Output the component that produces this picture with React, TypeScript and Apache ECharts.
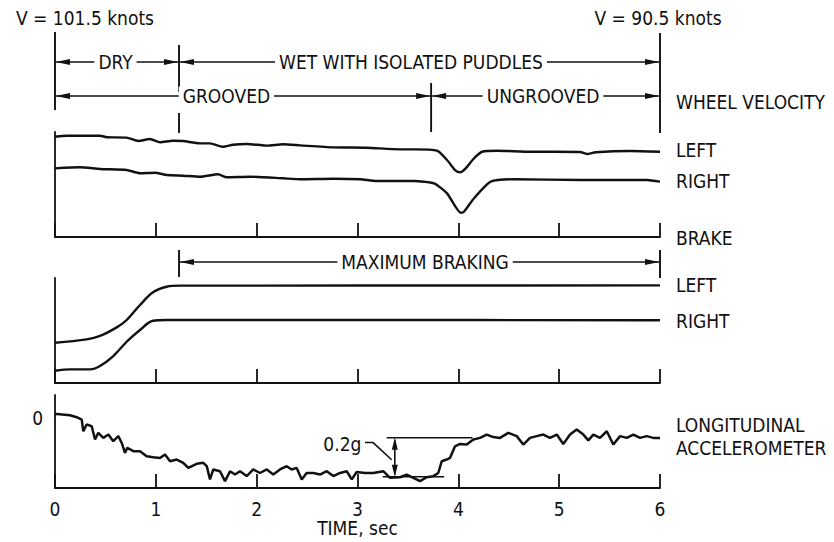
import React, { useEffect, useRef } from "react";
import * as echarts from "echarts";

const FONT = '"Liberation Sans Narrow", "DejaVu Sans Condensed", "Liberation Sans", sans-serif';
const INK = "#111111";

const TIME_TICKS = [0, 1, 2, 3, 4, 5, 6];

// Wheel velocity (relative units), [time s, value]
const wheelLeft: [number, number][] = [
  [0, 95.5], [0.116, 96.5], [0.446, 96.5], [0.513, 95.0], [0.711, 94.6], [0.826, 91.4], [0.942, 93.3],
  [1.041, 90.2], [1.17, 91.7], [1.269, 91.4], [1.438, 89.2], [1.537, 89.2], [1.666, 86.0], [1.765, 87.9],
  [1.904, 88.6], [2.103, 87.0], [2.261, 88.3], [2.43, 87.3], [2.757, 85.4], [3.094, 85.0], [3.421, 83.5],
  [3.56, 83.5], [3.789, 82.2], [3.888, 73.3], [3.974, 63.1], [4.017, 61.6], [4.073, 65.4], [4.156, 75.0],
  [4.235, 81.2], [4.384, 82.2], [4.718, 81.2], [4.949, 81.2], [5.207, 81.0], [5.276, 79.0], [5.362, 80.7],
  [5.71, 81.9], [6.0, 81.2],
];
const wheelRight: [number, number][] = [
  [0, 65.4], [0.248, 66.4], [0.446, 64.8], [0.711, 63.8], [0.843, 60.7], [0.992, 61.2], [1.108, 59.0],
  [1.269, 58.4], [1.438, 57.4], [1.617, 59.7], [1.703, 56.9], [1.934, 57.4], [2.261, 55.9], [2.43, 55.0],
  [2.757, 55.5], [3.025, 55.0], [3.19, 53.3], [3.56, 53.3], [3.759, 51.1], [3.888, 41.6], [4.024, 23.1],
  [4.056, 24.1], [4.156, 36.9], [4.321, 52.7], [4.552, 55.0], [5.214, 54.3], [5.871, 54.3], [6.0, 52.7],
];

// Brake (relative units)
const brakeLeft: [number, number][] = [
  [0, 38.4], [0.314, 41.6], [0.446, 44.8], [0.612, 53.0], [0.711, 60.0], [0.843, 74.3], [0.972, 86.4],
  [1.108, 91.7], [1.24, 92.7], [3.0, 92.8], [6.0, 93.0],
];
const brakeRight: [number, number][] = [
  [0, 11.7], [0.149, 13.0], [0.347, 13.0], [0.446, 16.2], [0.578, 25.7], [0.711, 39.3], [0.843, 50.5],
  [0.972, 59.3], [1.108, 60.0], [3.0, 60.0], [6.0, 59.7],
];

// Longitudinal acceleration, g
const accel: [number, number][] = [
  [0, 0.021], [0.017, 0.022], [0.149, 0.015], [0.215, 0.005], [0.265, -0.007], [0.281, -0.067], [0.314, -0.032],
  [0.364, -0.041], [0.397, -0.109], [0.429, -0.075], [0.479, -0.101], [0.529, -0.084], [0.578, -0.118],
  [0.628, -0.092], [0.662, -0.127], [0.694, -0.178], [0.717, -0.152], [0.777, -0.169], [0.843, -0.169],
  [0.909, -0.195], [0.975, -0.2], [1.041, -0.204], [1.091, -0.186], [1.141, -0.221], [1.207, -0.212],
  [1.272, -0.229], [1.322, -0.255], [1.405, -0.234], [1.471, -0.229], [1.505, -0.246], [1.537, -0.314],
  [1.57, -0.263], [1.636, -0.272], [1.686, -0.323], [1.736, -0.272], [1.785, -0.289], [1.835, -0.272],
  [1.901, -0.297], [1.967, -0.263], [2.033, -0.281], [2.1, -0.263], [2.165, -0.289], [2.231, -0.263],
  [2.298, -0.246], [2.347, -0.263], [2.397, -0.255], [2.447, -0.314], [2.496, -0.281], [2.562, -0.281],
  [2.628, -0.289], [2.695, -0.272], [2.76, -0.297], [2.827, -0.281], [2.893, -0.272], [2.943, -0.314],
  [2.992, -0.276], [3.074, -0.281], [3.157, -0.281], [3.256, -0.272], [3.322, -0.306], [3.422, -0.303],
  [3.488, -0.289], [3.554, -0.306], [3.62, -0.323], [3.686, -0.303], [3.752, -0.297], [3.801, -0.281],
  [3.835, -0.221], [3.885, -0.212], [3.917, -0.204], [3.967, -0.144], [4.017, -0.132], [4.083, -0.135],
  [4.149, -0.109], [4.215, -0.101], [4.281, -0.084], [4.347, -0.097], [4.413, -0.101], [4.496, -0.075],
  [4.579, -0.092], [4.644, -0.135], [4.711, -0.101], [4.777, -0.092], [4.843, -0.084], [4.909, -0.101],
  [4.976, -0.084], [5.041, -0.132], [5.108, -0.084], [5.174, -0.058], [5.24, -0.084], [5.289, -0.114],
  [5.339, -0.084], [5.405, -0.101], [5.472, -0.067], [5.537, -0.135], [5.604, -0.092], [5.67, -0.101],
  [5.736, -0.084], [5.802, -0.101], [5.868, -0.092], [5.934, -0.101], [6.0, -0.101],
];

// Zones and annotations (time, s)
const DRY_END = 1.23;
const GROOVED_END = 3.73;
const BRAKE_START = 1.23;
const G_UPPER = -0.1;
const G_LOWER = -0.3;
const G_UPPER_SPAN: [number, number] = [3.29, 4.14];
const G_LOWER_SPAN: [number, number] = [3.25, 3.86];
const G_ARROW_T = 3.37;

export default function App() {
  const ref = useRef<HTMLDivElement>(null);
  useEffect(() => {
    if (!ref.current) return;
    const chart = echarts.init(ref.current, undefined, { renderer: "svg" });
    const axisLine = { show: true, onZero: false, lineStyle: { color: INK, width: 1.8 } };
    const grids = [
      { left: 55, right: 174, top: 132, height: 105 },
      { left: 55, right: 174, top: 278, height: 105 },
      { left: 55, right: 174, top: 395, height: 93 },
    ];
    const yRanges = [
      [0, 100],
      [0, 100],
      [-0.358, 0.119],
    ];
    const lineSeries = (data: [number, number][], idx: number, smooth: number | boolean, w: number) => ({
      type: "line",
      xAxisIndex: idx,
      yAxisIndex: idx,
      data,
      smooth,
      symbol: "none",
      showSymbol: false,
      lineStyle: { color: INK, width: w },
      silent: true,
    });
    chart.setOption({
      animation: false,
      backgroundColor: "#fff",
      grid: grids,
      xAxis: grids.map((_, i) => ({
        type: "value",
        gridIndex: i,
        min: 0,
        max: 6,
        interval: 1,
        axisLine,
        axisTick: { show: true, inside: true, length: 14, lineStyle: { color: INK, width: 1.8 }, customValues: TIME_TICKS },
        splitLine: { show: false },
        axisLabel: {
          show: i === 2,
          color: INK,
          fontFamily: FONT,
          fontSize: 19,
          margin: 11,
          customValues: TIME_TICKS,
        },
        name: i === 2 ? "TIME, sec" : "",
        nameLocation: "middle",
        nameGap: 30,
        nameTextStyle: { color: INK, fontFamily: FONT, fontSize: 19 },
      })),
      yAxis: grids.map((_, i) => ({
        type: "value",
        gridIndex: i,
        min: yRanges[i][0],
        max: yRanges[i][1],
        axisLine,
        axisTick: { show: false },
        splitLine: { show: false },
        axisLabel: i === 2
          ? { show: true, color: INK, fontFamily: FONT, fontSize: 19, margin: 12, customValues: [0] }
          : { show: false },
      })),
      series: [
        lineSeries(wheelLeft, 0, 0.2, 2.4),
        lineSeries(wheelRight, 0, 0.2, 2.4),
        lineSeries(brakeLeft, 1, 0.35, 2.4),
        lineSeries(brakeRight, 1, 0.35, 2.4),
        lineSeries(accel, 2, false, 2.5),
      ],
    });

    const px = (g: number, t: number, v: number) => chart.convertToPixel({ gridIndex: g } as any, [t, v]) as number[];
    const X = (t: number) => px(0, t, 0)[0];

    const els: any[] = [];
    const vline = (x: number, y1: number, y2: number, w = 1.9) =>
      els.push({ type: "line", shape: { x1: x, y1, x2: x, y2 }, style: { stroke: INK, lineWidth: w }, silent: true });
    const hline = (x1: number, x2: number, y: number, w = 1.3) =>
      els.push({ type: "line", shape: { x1, y1: y, x2, y2: y }, style: { stroke: INK, lineWidth: w }, silent: true });
    const head = (x: number, y: number, dir: number) =>
      els.push({
        type: "polygon",
        shape: { points: [[x, y], [x + dir * 14, y - 3], [x + dir * 14, y + 3]] },
        style: { fill: INK },
        silent: true,
      });
    const text = (s: string, x: number, y: number, align = "center", bg = false, size = 19) =>
      els.push({
        type: "text",
        x,
        y,
        style: {
          text: s,
          fill: INK,
          font: `${size}px ${FONT}`,
          align,
          verticalAlign: "middle",
          ...(bg ? { backgroundColor: "#fff", padding: [0, 4] } : {}),
        },
        silent: true,
        z: 10,
      });
    const dim = (t1: number, t2: number, y: number, label: string, tLabel: number) => {
      const a = X(t1) + 1, b = X(t2) - 1;
      hline(a, b, y);
      head(a, y, 1);
      head(b, y, -1);
      text(label, X(tLabel), y, "center", true);
    };

    // top annotations
    vline(X(0), 32, 110);
    vline(X(DRY_END), 45, 92);
    vline(X(DRY_END), 113, 133);
    vline(X(GROOVED_END), 83, 132);
    vline(X(6), 33, 133);
    dim(0, DRY_END, 62, "DRY", 0.6);
    dim(DRY_END, 6, 62, "WET WITH ISOLATED PUDDLES", 3.53);
    dim(0, GROOVED_END, 96, "GROOVED", 1.7);
    dim(GROOVED_END, 6, 96, "UNGROOVED", 4.84);
    text("V = 101.5 knots", X(0) + 30, 18);
    text("V = 90.5 knots", X(6) - 2, 18);

    // brake annotation
    vline(X(BRAKE_START), 250, 277);
    vline(X(6), 250, 278);
    dim(BRAKE_START, 6, 262, "MAXIMUM BRAKING", 3.67);

    // right-side labels
    const lx = X(6) + 16;
    text("WHEEL VELOCITY", lx, 102, "left");
    text("LEFT", lx, 150, "left");
    text("RIGHT", lx, 181, "left");
    text("BRAKE", lx, 238, "left");
    text("LEFT", lx, 285, "left");
    text("RIGHT", lx, 321, "left");
    text("LONGITUDINAL", lx, 425, "left");
    text("ACCELEROMETER", lx, 448, "left");

    // 0.2g annotation
    const u1 = px(2, G_UPPER_SPAN[0], G_UPPER), u2 = px(2, G_UPPER_SPAN[1], G_UPPER);
    const l1 = px(2, G_LOWER_SPAN[0], G_LOWER), l2 = px(2, G_LOWER_SPAN[1], G_LOWER);
    hline(u1[0], u2[0], u1[1], 1.6);
    hline(l1[0], l2[0], l1[1], 1.6);
    const ax = px(2, G_ARROW_T, 0)[0];
    const ay1 = u1[1], ay2 = l1[1];
    vline(ax, ay1 + 2, ay2 - 2, 1.6);
    els.push({ type: "polygon", shape: { points: [[ax, ay1], [ax - 3, ay1 + 12], [ax + 3, ay1 + 12]] }, style: { fill: INK }, silent: true });
    els.push({ type: "polygon", shape: { points: [[ax, ay2], [ax - 3, ay2 - 12], [ax + 3, ay2 - 12]] }, style: { fill: INK }, silent: true });
    const lab = px(2, 2.85, -0.13);
    text("0.2g", lab[0], lab[1], "center");
    const p1 = px(2, 3.074, -0.125), p2 = px(2, 3.154, -0.125), p3 = px(2, 3.339, -0.213);
    els.push({ type: "polyline", shape: { points: [p1, p2, p3] }, style: { stroke: INK, lineWidth: 1.6, fill: null }, silent: true });

    chart.setOption({ graphic: { elements: els } });
    return () => chart.dispose();
  }, []);
  return <div ref={ref} style={{ position: "fixed", left: 0, top: 0, width: 834, height: 542, background: "#fff" }} />;
}
